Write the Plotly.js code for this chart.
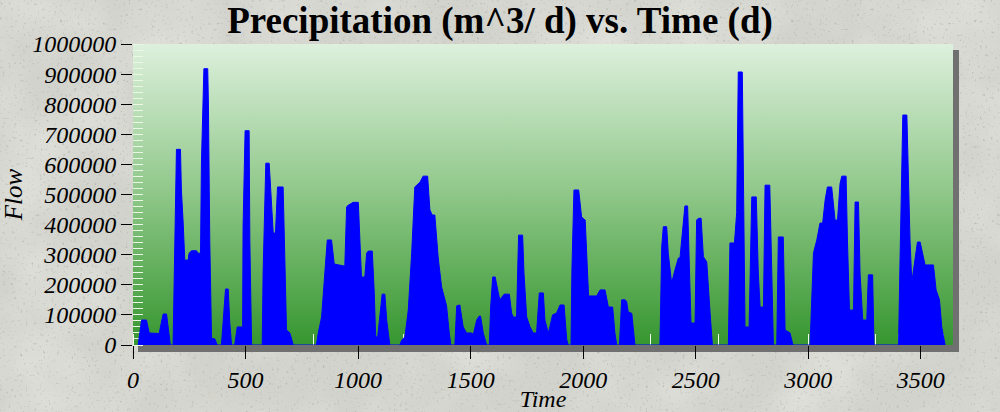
<!DOCTYPE html>
<html>
<head>
<meta charset="utf-8">
<script src="https://cdn.plot.ly/plotly-3.0.1.min.js"></script>
<style>html,body{margin:0;padding:0;background:#d6d6d0;}#chart{width:1000px;height:412px;}</style>
</head>
<body>
<div id="chart"></div>
<script>
// Time (d)
const days = [
  23, 38, 60, 72, 116, 134, 149, 166, 178, 183, 193, 211, 215, 223, 230, 245, 249, 260, 282, 289, 300,
  304, 315, 332, 335, 341, 349, 364, 374, 393, 405, 411, 423, 430, 438, 452, 463, 487, 489, 498, 516,
  519, 527, 574, 578, 586, 590, 605, 611, 623, 633, 642, 667, 675, 682, 697, 712,
  815, 823, 838, 852, 863, 882, 894, 941, 949, 956, 978, 1001, 1008, 1015, 1030, 1038, 1045, 1063,
  1072, 1078, 1087, 1097, 1107, 1119, 1127, 1141, 1186, 1193, 1208, 1223, 1238, 1252, 1275, 1289,
  1309, 1319, 1329, 1341, 1356, 1371, 1393, 1405, 1412, 1430, 1438,
  1452, 1467, 1482, 1504, 1512, 1527, 1538, 1544, 1556, 1571, 1583, 1589, 1598, 1609, 1623, 1630,
  1649, 1672, 1682, 1689, 1704, 1713, 1731, 1737, 1749, 1764, 1778, 1793, 1805, 1823, 1830, 1845,
  1852, 1864, 1882, 1897, 1915, 1927, 1934, 1946, 1950, 1959, 1980, 1993, 2009, 2015, 2024, 2060,
  2075, 2097, 2112, 2131, 2141, 2149, 2161, 2171, 2186, 2193, 2200, 2216, 2230,
  2341, 2349, 2356, 2371, 2378, 2393, 2408, 2423, 2430, 2445, 2452, 2464, 2467, 2479, 2497, 2504,
  2512, 2524, 2534, 2549, 2564, 2574, 2645, 2652, 2672, 2682, 2689, 2707, 2713, 2719, 2737, 2749,
  2769, 2778, 2786, 2801, 2808, 2829, 2838, 2845, 2860, 2867, 2889, 2897, 2919, 2932,
  3008, 3023, 3030, 3038, 3052, 3064, 3075, 3085, 3104, 3119, 3130, 3141, 3149, 3168, 3174, 3183,
  3201, 3208, 3223, 3230, 3242, 3260, 3267, 3286, 3292, 3401, 3408, 3420, 3438, 3445, 3452, 3460,
  3475, 3485, 3497, 3512, 3519, 3556, 3568, 3583, 3593, 3608
];
// Flow (m^3/d)
const flow = [
  0, 83000, 83000, 40000, 38000, 103000, 103000, 0, 0, 240000, 650000, 650000, 515000, 405000, 282000, 282000, 305000, 313000, 313000, 305000, 305000,
  605000, 918000, 918000, 804000, 349000, 23000, 20000, 0, 0, 140000, 186000, 186000, 73000, 0, 0, 60000, 60000, 392000, 712000, 712000,
  349000, 0, 0, 239000, 525000, 604000, 604000, 515000, 372000, 372000, 525000, 525000, 293000, 50000, 40000, 0,
  0, 40000, 93000, 239000, 349000, 349000, 269000, 262000, 459000, 464000, 474000, 474000, 349000, 226000, 226000, 305000, 312000, 312000,
  170000, 27000, 27000, 93000, 169000, 169000, 83000, 0, 0, 15000, 27000, 116000, 305000, 525000, 541000, 561000,
  561000, 449000, 432000, 432000, 289000, 193000, 130000, 40000, 0, 0, 130000,
  133000, 60000, 40000, 40000, 35000, 83000, 96000, 96000, 40000, 0, 0, 126000, 226000, 226000, 173000, 150000,
  169000, 169000, 106000, 93000, 93000, 365000, 365000, 239000, 93000, 60000, 40000, 40000, 173000, 173000, 83000, 40000,
  60000, 100000, 106000, 133000, 133000, 17000, 0, 0, 250000, 515000, 515000, 425000, 415000, 293000, 163000, 163000,
  183000, 183000, 126000, 126000, 40000, 0, 0, 150000, 150000, 145000, 110000, 105000, 0,
  0, 326000, 393000, 393000, 305000, 206000, 250000, 289000, 289000, 395000, 462000, 462000, 380000, 73000, 73000, 415000,
  421000, 421000, 293000, 276000, 105000, 0, 0, 339000, 339000, 440000, 907000, 907000, 482000, 60000, 60000, 492000,
  492000, 239000, 126000, 126000, 531000, 531000, 239000, 0, 0, 359000, 359000, 50000, 40000, 0,
  0, 305000, 326000, 349000, 405000, 405000, 482000, 525000, 525000, 415000, 415000, 535000, 561000, 561000, 349000, 116000,
  116000, 475000, 475000, 239000, 83000, 83000, 233000, 233000, 0, 0, 293000, 764000, 764000, 548000, 349000, 209000,
  293000, 342000, 342000, 282000, 266000, 266000, 183000, 150000, 60000, 0
];
const yTickVals = [0, 100000, 200000, 300000, 400000, 500000, 600000, 700000, 800000, 900000, 1000000];
const yTickText = ['0', '100000', '200000', '300000', '400000', '500000', '600000', '700000', '800000', '900000', '1000000'];
const xTickVals = [0, 500, 1000, 1500, 2000, 2500, 3000, 3500];
const xTickText = ['0', '500', '1000', '1500', '2000', '2500', '3000', '3500'];
const xRange = [0, 3643];
const yRange = [0, 1000000];

const serif = '"Liberation Serif", "Times New Roman", Times, serif';

const bgSvg = "<svg xmlns='http://www.w3.org/2000/svg' width='1000' height='412' viewBox='0 0 1000 412' preserveAspectRatio='none'>" +
  "<filter id='m'><feTurbulence type='fractalNoise' baseFrequency='0.012' numOctaves='3' seed='7'/>" +
  "<feColorMatrix values='0 0 0 0 1  0 0 0 0 1  0 0 0 0 0.98  1.2 0 0 0 -0.45'/></filter>" +
  "<filter id='n'><feTurbulence type='fractalNoise' baseFrequency='0.35' numOctaves='2' seed='3'/>" +
  "<feColorMatrix values='0 0 0 0 0.35  0 0 0 0 0.35  0 0 0 0 0.33  5 0 0 0 -3.2'/></filter>" +
  "<rect width='1000' height='412' fill='#d3d3cd'/>" +
  "<rect width='1000' height='412' filter='url(#m)' opacity='0.55'/>" +
  "<rect width='1000' height='412' filter='url(#n)' opacity='0.45'/></svg>";

const plotSvg = "<svg xmlns='http://www.w3.org/2000/svg' width='826' height='308' viewBox='0 0 826 308' preserveAspectRatio='none'>" +
  "<defs><linearGradient id='g' x1='0' y1='0' x2='0' y2='1'>" +
  "<stop offset='0' stop-color='#ddf0dc'/><stop offset='0.5' stop-color='#8ec788'/><stop offset='1' stop-color='#36962f'/>" +
  "</linearGradient></defs>" +
  "<rect x='5' y='6' width='821' height='302' fill='#707070'/>" +
  "<rect x='0' y='0' width='820' height='301' fill='url(#g)'/></svg>";

const toUri = s => 'data:image/svg+xml;charset=utf-8,' + encodeURIComponent(s);

const trace = {
  type: 'scatter',
  mode: 'lines',
  x: days,
  y: flow,
  fill: 'tozeroy',
  fillcolor: '#0000ff',
  line: {color: '#0000ff', width: 1},
  hoverinfo: 'x+y',
  showlegend: false
};

const layout = {
  width: 1000,
  height: 412,
  margin: {l: 133, r: 47, t: 44, b: 67, pad: 0},
  paper_bgcolor: '#d6d6d0',
  plot_bgcolor: 'rgba(0,0,0,0)',
  showlegend: false,
  title: {
    text: '<b>Precipitation (m^3/ d) vs. Time (d)</b>',
    font: {family: serif, size: 37, color: '#000'},
    xref: 'container', x: 0.5, xanchor: 'center',
    yref: 'container', y: 0.952, yanchor: 'middle'
  },
  xaxis: {
    range: xRange,
    tickvals: xTickVals,
    ticktext: xTickText,
    ticks: 'outside', ticklen: 13, tickwidth: 1, tickcolor: '#000',
    showline: false, showgrid: false, zeroline: false,
    tickfont: {family: serif, size: 24, color: '#000', style: 'italic'},
    title: {text: '<i>Time</i>', font: {family: serif, size: 24, color: '#000'}},
    minor: {dtick: 100, ticks: 'inside', ticklen: 11, tickwidth: 1, tickcolor: '#f2fff0', showgrid: false},
    layer: 'below traces',
    fixedrange: true
  },
  yaxis: {
    range: yRange,
    tickvals: yTickVals,
    ticktext: yTickText,
    ticks: 'outside', ticklen: 11, tickwidth: 1, tickcolor: '#000',
    showline: false, showgrid: false, zeroline: false,
    tickfont: {family: serif, size: 24, color: '#000', style: 'italic'},
    title: {text: '<i>Flow</i>', font: {family: serif, size: 25, color: '#000'}, standoff: 4},
    automargin: true,
    minor: {dtick: 20000, ticks: 'inside', ticklen: 10, tickwidth: 1, tickcolor: '#eaf7e4', showgrid: false},
    layer: 'below traces',
    fixedrange: true
  },
  xaxis2: {
    overlaying: 'x', anchor: 'y', side: 'bottom',
    range: xRange, tickvals: xTickVals,
    ticks: 'inside', ticklen: 12, tickwidth: 1, tickcolor: '#000',
    showticklabels: false, showgrid: false, zeroline: false,
    showline: true, mirror: true, linecolor: '#000', linewidth: 1,
    layer: 'above traces', fixedrange: true
  },
  yaxis2: {
    overlaying: 'y', anchor: 'x', side: 'left',
    range: yRange, tickvals: yTickVals,
    ticks: 'inside', ticklen: 11, tickwidth: 1, tickcolor: '#000',
    showticklabels: false, showgrid: false, zeroline: false,
    showline: true, mirror: true, linecolor: '#000', linewidth: 1,
    layer: 'above traces', fixedrange: true
  },
  images: [
    {source: toUri(bgSvg), xref: 'paper', yref: 'paper',
     x: -133 / 820, y: 1 + 44 / 301, sizex: 1000 / 820, sizey: 412 / 301,
     xanchor: 'left', yanchor: 'top', sizing: 'stretch', layer: 'below'},
    {source: toUri(plotSvg), xref: 'paper', yref: 'paper',
     x: 0, y: 1, sizex: 826 / 820, sizey: 308 / 301,
     xanchor: 'left', yanchor: 'top', sizing: 'stretch', layer: 'below'}
  ]
};

Plotly.newPlot('chart', [trace], layout, {displayModeBar: false, staticPlot: true});
</script>
</body>
</html>
